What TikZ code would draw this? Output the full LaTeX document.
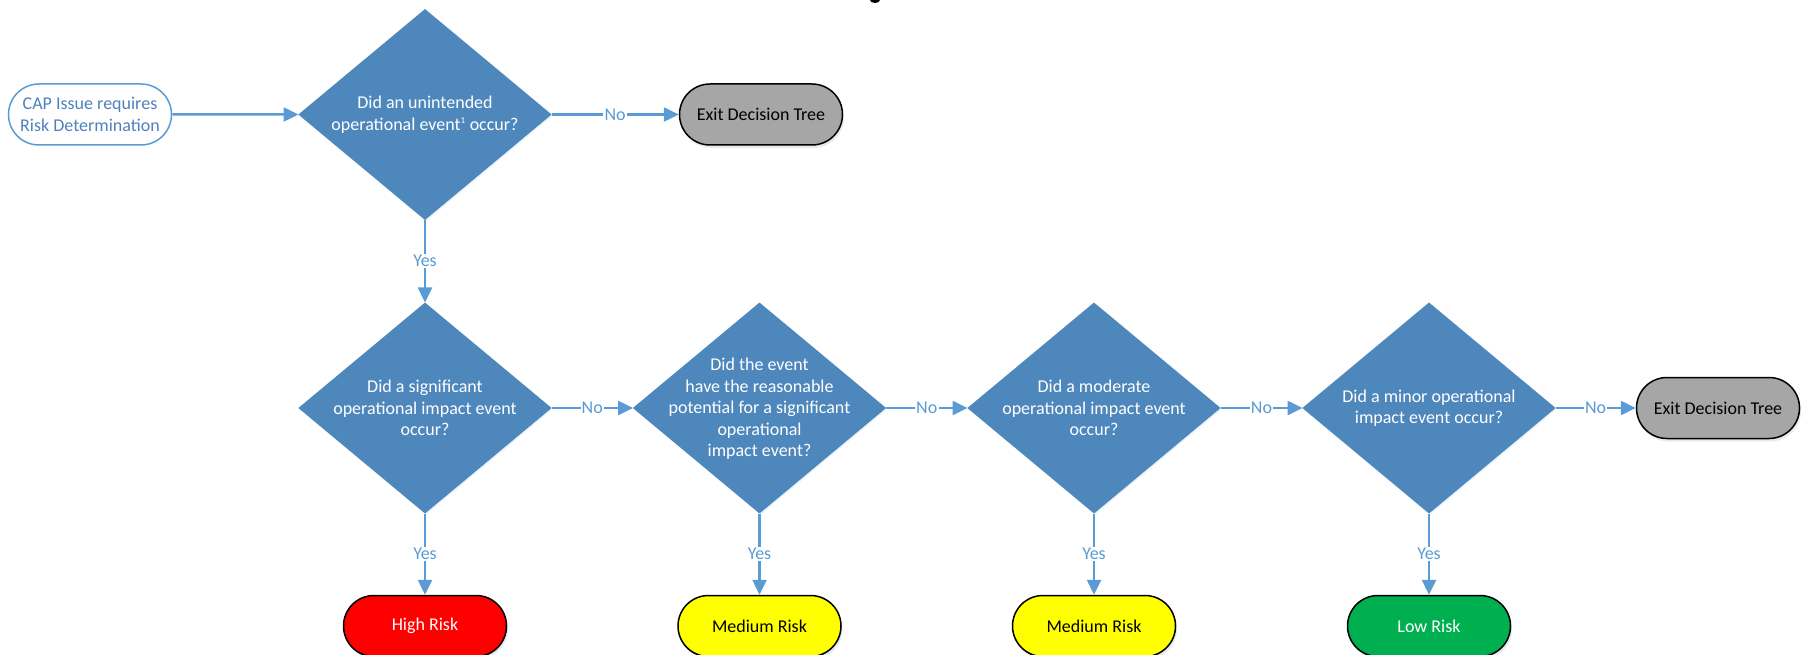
\documentclass[tikz,border=0pt]{standalone}
\usepackage{fontspec}
\setmainfont{Carlito}
\usetikzlibrary{shapes.geometric,shapes.misc,arrows.meta,shadows}
\definecolor{dfill}{RGB}{78,135,188}
\definecolor{conn}{RGB}{91,155,213}
\definecolor{stxt}{RGB}{79,129,189}
\definecolor{exitg}{RGB}{166,166,166}
\definecolor{riskred}{RGB}{255,0,0}
\definecolor{riskyel}{RGB}{255,255,0}
\definecolor{riskgrn}{RGB}{0,176,80}
\tikzset{
  basefont/.style={font=\fontsize{18}{21.5}\selectfont},
  term/.style={basefont, rounded rectangle, minimum width=163pt, minimum height=61pt, inner sep=0pt, align=center},
  softshadow/.style={drop shadow={shadow xshift=1.5pt, shadow yshift=-3pt, opacity=0.18, fill=conn!60!gray}},
  startbox/.style={term, draw=conn, line width=1.5pt, fill=white, text=stxt},
  exitbox/.style={term, draw=black, line width=1.5pt, fill=exitg, text=black, softshadow},
  riskbox/.style={term, draw=black, line width=1.5pt, softshadow},
  decision/.style={diamond, fill=dfill, draw=dfill, line width=1pt, minimum width=252pt, minimum height=210pt, inner sep=0pt, drop shadow={shadow xshift=1pt, shadow yshift=-2pt, opacity=0.12, fill=conn}},
  qtext/.style={basefont, text=white, align=center, inner sep=0pt},
  conline/.style={draw=conn, line width=2.5pt, -{Triangle[length=15pt,width=14pt]}},
  lbl/.style={basefont, fill=white, text=conn, inner sep=1.2pt}
}
\begin{document}
\begin{tikzpicture}[x=1pt,y=-1pt]
\useasboundingbox (0,0) rectangle (1801,655);
\fill (875,0) ellipse (5 and 3);

\node[startbox] (start) at (90,114.5) {CAP Issue requires\\Risk Determination};
\node[decision] (d1) at (425,114.5) {};
\node[qtext] (d1t) at (425,114.5) {Did an unintended\\operational event\textsuperscript{\fontsize{9}{9}\selectfont 1} occur?};
\node[exitbox] (exit1) at (761,114.5) {Exit Decision Tree};

\node[decision] (d2) at (425,408) {};
\node[qtext] (d2t) at (425,408) {Did a significant\\operational impact event\\occur?};
\node[decision] (d3) at (759.5,408) {};
\node[qtext] (d3t) at (759.5,409) {Did the event\\have the reasonable\\potential for a significant\\operational\\impact event?};
\node[decision] (d4) at (1094,408) {};
\node[qtext] (d4t) at (1094,408) {Did a moderate\\operational impact event\\occur?};
\node[decision] (d5) at (1429,408) {};
\node[qtext] (d5t) at (1429,408) {Did a minor operational\\impact event occur?};
\node[exitbox] (exit2) at (1718,408) {Exit Decision Tree};

\node[riskbox, fill=riskred, text=white] (high) at (425,626) {High Risk};
\node[riskbox, fill=riskyel, text=black] (med1) at (759.5,626) {Medium Risk};
\node[riskbox, fill=riskyel, text=black] (med2) at (1094,626) {Medium Risk};
\node[riskbox, fill=riskgrn, text=white] (low) at (1429,626) {Low Risk};

\draw[conline] (start) -- (d1);
\draw[conline] (d1) -- node[lbl] {No} (exit1);
\draw[conline] (d1) -- node[lbl] {Yes} (d2);
\draw[conline] (d2) -- node[lbl] {No} (d3);
\draw[conline] (d3) -- node[lbl] {No} (d4);
\draw[conline] (d4) -- node[lbl] {No} (d5);
\draw[conline] (d5) -- node[lbl] {No} (exit2);
\draw[conline] (d2) -- node[lbl] {Yes} (high);
\draw[conline] (d3) -- node[lbl] {Yes} (med1);
\draw[conline] (d4) -- node[lbl] {Yes} (med2);
\draw[conline] (d5) -- node[lbl] {Yes} (low);
\end{tikzpicture}
\end{document}
